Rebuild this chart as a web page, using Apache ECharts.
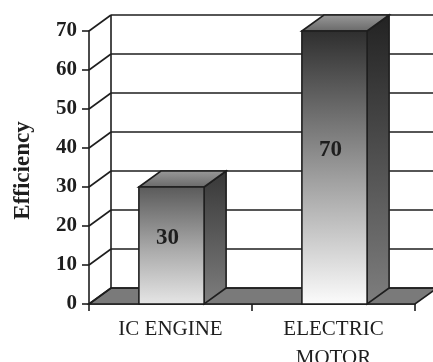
<!DOCTYPE html>
<html>
<head>
<meta charset="utf-8">
<script src="https://cdn.jsdelivr.net/npm/echarts@6/dist/echarts.min.js"></script>
<style>
  html, body { margin: 0; padding: 0; background: #fff; }
  #chart { width: 433px; height: 362px; }
</style>
</head>
<body>
<div id="chart"></div>
<script>
// Efficiency of the two drive types
const categories = ['IC ENGINE', 'ELECTRIC\nMOTOR'];
const efficiency = [30, 70];
const yMin = 0, yMax = 70, yStep = 10;

// Pseudo-3D depth of walls and bars (pixels)
const DEPTH_X = 22, DEPTH_Y = -16;
const BAR_RATIO = 0.4;       // bar width as share of category band
const LABEL_LEVEL = 0.565;   // label height as share of bar value
const INK = '#1e1e1e';

const chart = echarts.init(document.getElementById('chart'), null, { renderer: 'canvas' });

function tickValues() {
  const out = [];
  for (let v = yMin; v <= yMax; v += yStep) out.push(v);
  return out;
}

function grey(n) {
  const c = Math.max(0, Math.min(255, Math.round(n)));
  return 'rgb(' + c + ',' + c + ',' + c + ')';
}

// Floor, left wall and back wall with gridlines
function renderFrame(params, api) {
  const children = [];
  const nCat = categories.length;
  const left = api.coord([0, yMin])[0] - api.size([1, 0])[0] / 2;
  const right = api.coord([nCat - 1, yMin])[0] + api.size([1, 0])[0] / 2;
  const y0 = api.coord([0, yMin])[1];
  const lineStyle = { stroke: INK, lineWidth: 1.6, fill: null };

  // floor
  children.push({
    type: 'polygon',
    shape: { points: [[left, y0], [right, y0], [right + DEPTH_X, y0 + DEPTH_Y], [left + DEPTH_X, y0 + DEPTH_Y]] },
    style: { fill: '#7a7a7a', stroke: INK, lineWidth: 1.6 }
  });

  tickValues().forEach(function (v) {
    const y = api.coord([0, v])[1];
    // back wall gridline
    children.push({
      type: 'line',
      shape: { x1: left + DEPTH_X, y1: y + DEPTH_Y, x2: right + DEPTH_X, y2: y + DEPTH_Y },
      style: lineStyle
    });
    // left wall diagonal
    children.push({
      type: 'line',
      shape: { x1: left, y1: y, x2: left + DEPTH_X, y2: y + DEPTH_Y },
      style: lineStyle
    });
  });
  // back wall left edge
  const yTop = api.coord([0, yMax])[1];
  children.push({
    type: 'line',
    shape: { x1: left + DEPTH_X, y1: y0 + DEPTH_Y, x2: left + DEPTH_X, y2: yTop + DEPTH_Y },
    style: lineStyle
  });
  return { type: 'group', children: children };
}

// 3D bar: side, top and front faces plus value label
function renderBar(params, api) {
  const idx = api.value(0);
  const val = api.value(1);
  const base = api.coord([idx, yMin]);
  const top = api.coord([idx, val]);
  const band = api.size([1, 0])[0];
  const w = band * BAR_RATIO;
  const x0 = base[0] - w / 2 + 1, x1 = x0 + w;
  const yb = base[1], yt = top[1];
  const edge = { stroke: INK, lineWidth: 1.6 };
  const lbl = api.coord([idx, val * LABEL_LEVEL]);

  // taller bars get a stronger dark-to-light ramp
  const share = (val - yMin) / (yMax - yMin);
  const frontTop = 123 - 77 * share;
  const frontBottom = 213 + 39 * share;
  const frontMid = (frontTop + frontBottom) / 2 + 12;
  const sideTop = 70 - 36 * share;

  return {
    type: 'group',
    children: [
      {
        type: 'polygon',
        shape: { points: [[x1, yt], [x1 + DEPTH_X, yt + DEPTH_Y], [x1 + DEPTH_X, yb + DEPTH_Y], [x1, yb]] },
        style: Object.assign({
          fill: new echarts.graphic.LinearGradient(0, 0, 0, 1, [
            { offset: 0, color: grey(sideTop) }, { offset: 1, color: '#7e7e7e' }
          ])
        }, edge)
      },
      {
        type: 'polygon',
        shape: { points: [[x0, yt], [x0 + DEPTH_X, yt + DEPTH_Y], [x1 + DEPTH_X, yt + DEPTH_Y], [x1, yt]] },
        style: Object.assign({
          fill: new echarts.graphic.LinearGradient(0, 0, 0, 1, [
            { offset: 0, color: '#9a9a9a' }, { offset: 1, color: '#686868' }
          ])
        }, edge)
      },
      {
        type: 'rect',
        shape: { x: x0, y: yt, width: w, height: yb - yt },
        style: Object.assign({
          fill: new echarts.graphic.LinearGradient(0, 0, 0, 1, [
            { offset: 0, color: grey(frontTop) },
            { offset: 0.55, color: grey(frontMid) },
            { offset: 1, color: grey(frontBottom) }
          ])
        }, edge)
      },
      {
        type: 'text',
        style: {
          x: lbl[0] - 3, y: lbl[1],
          text: String(val),
          fill: INK,
          font: 'bold 23px "Liberation Serif"',
          align: 'center', verticalAlign: 'middle'
        }
      }
    ]
  };
}

chart.setOption({
  animation: false,
  backgroundColor: '#ffffff',
  grid: { left: 89, right: 18, top: 31, bottom: 58, containLabel: false, outerBoundsMode: 'none' },
  xAxis: {
    type: 'category',
    data: categories,
    boundaryGap: true,
    axisLine: { show: true, lineStyle: { color: INK, width: 1.6 } },
    axisTick: { show: true, interval: 0, length: 7, lineStyle: { color: INK, width: 1.6 } },
    axisLabel: {
      interval: 0, margin: 11,
      fontFamily: 'Liberation Serif', fontSize: 21, lineHeight: 29,
      color: INK
    },
    splitLine: { show: false }
  },
  yAxis: {
    type: 'value',
    min: yMin, max: yMax, interval: yStep,
    name: 'Efficiency',
    nameLocation: 'middle',
    nameRotate: 90,
    nameGap: 54,
    nameTextStyle: {
      fontFamily: 'Liberation Serif', fontWeight: 'bold', fontSize: 23, color: INK,
      padding: [0, 6, 0, 0]
    },
    axisLine: { show: true, lineStyle: { color: INK, width: 1.6 } },
    axisTick: { show: true, length: 7, lineStyle: { color: INK, width: 1.6 } },
    axisLabel: {
      margin: 12,
      fontFamily: 'Liberation Serif', fontWeight: 'bold', fontSize: 21, color: INK
    },
    splitLine: { show: false }
  },
  series: [
    {
      type: 'custom',
      name: 'frame',
      renderItem: renderFrame,
      data: [[0, 0]],
      clip: false,
      silent: true,
      z: 1
    },
    {
      type: 'custom',
      name: 'Efficiency',
      renderItem: renderBar,
      data: efficiency.map(function (v, i) { return [i, v]; }),
      encode: { x: 0, y: 1 },
      clip: false,
      z: 3
    }
  ]
});
</script>
</body>
</html>
